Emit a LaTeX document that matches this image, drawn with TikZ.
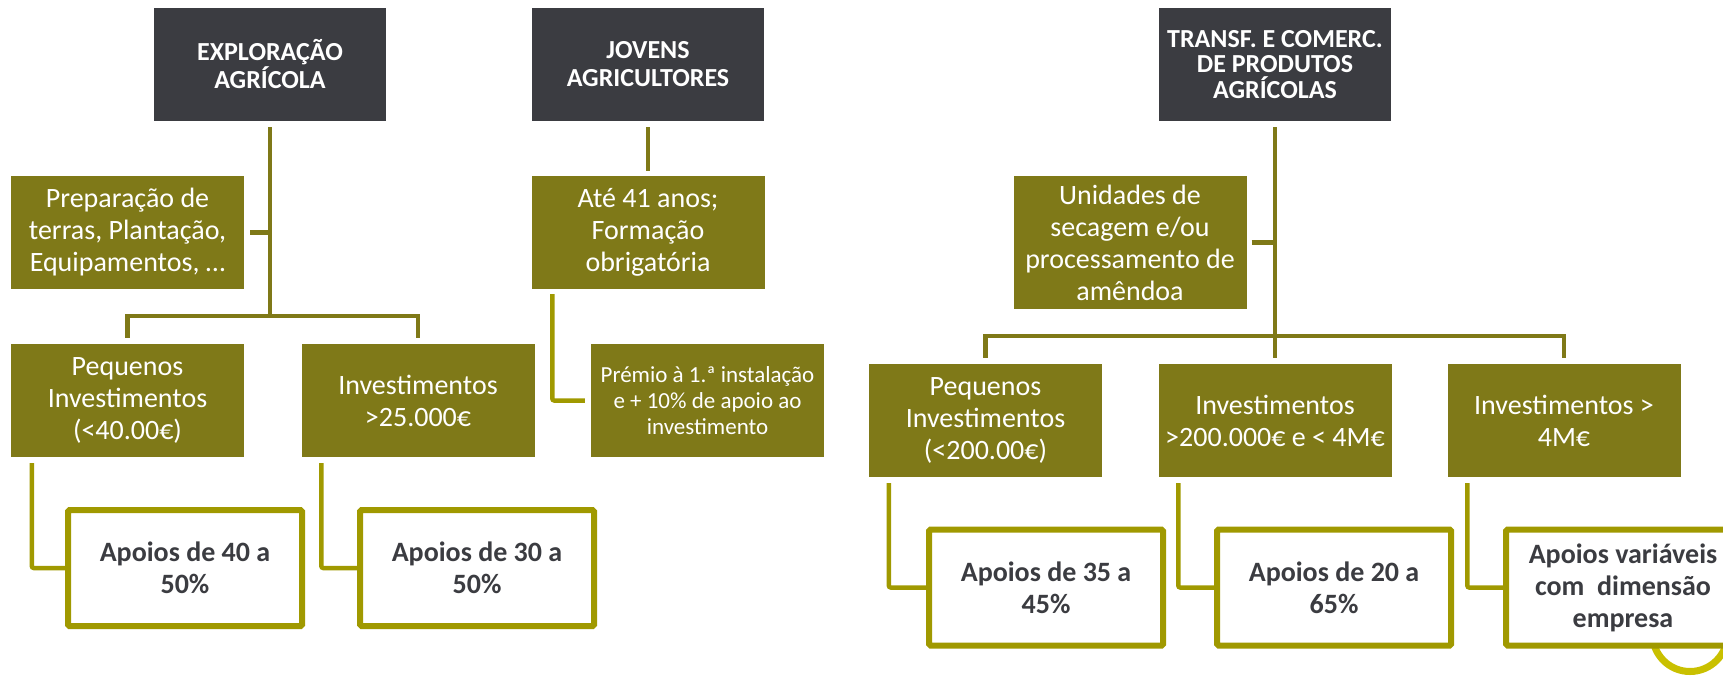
\documentclass[tikz,border=0pt]{standalone}
\usepackage{fontspec}
\setmainfont{Carlito}
\definecolor{headgray}{RGB}{59,60,65}
\definecolor{boxolive}{RGB}{127,121,24}
\definecolor{lineyellow}{RGB}{160,153,0}
\definecolor{ringyellow}{RGB}{201,192,0}
\tikzset{
  headbox/.style={fill=headgray, text=white, inner sep=0pt, align=center,
    minimum width=232pt, minimum height=113pt,
    font=\bfseries\fontsize{26}{28}\selectfont},
  greenbox/.style={fill=boxolive, text=white, inner sep=0pt, align=center,
    minimum width=233pt, minimum height=113pt,
    font=\fontsize{28}{32}\selectfont},
  apoiobox/.style={draw=lineyellow, line width=6pt, fill=white, text=headgray,
    inner sep=0pt, align=center, rounded corners=1.5pt,
    minimum width=234pt, minimum height=116pt,
    font=\bfseries\fontsize{28}{32}\selectfont},
  upline/.style={draw=boxolive, line width=4.5pt},
  lowline/.style={draw=lineyellow, line width=4.5pt, rounded corners=2pt},
}
\begin{document}
\begin{tikzpicture}[x=1pt,y=-1pt]
    \clip (0,0) rectangle (1723,678);
    % left part
    \node[headbox] (expl) at (270,64.5) {EXPLORAÇÃO\\AGRÍCOLA};
    \node[headbox] (jov) at (648,64.5) {JOVENS\\AGRICULTORES};
    \node[greenbox] (prep) at (127.5,232.5) {Preparação de\\terras, Plantação,\\Equipamentos, …};
    \node[greenbox] (ate) at (648,232.5) {Até 41 anos;\\Formação\\obrigatória};
    \node[greenbox] (peq1) at (127.5,400.5) {Pequenos\\Investimentos\\(<40.00€)};
    \node[greenbox] (inv1) at (418,400.5) {Investimentos\\>25.000€};
    \node[greenbox, font=\fontsize{23}{26}\selectfont] (prem) at (707.5,400.5) {Prémio à 1.ª instalação\\e + 10\% de apoio ao\\investimento};
    \node[apoiobox] (ap1) at (185,568) {Apoios de 40 a\\50\%};
    \node[apoiobox] (ap2) at (477,568) {Apoios de 30 a\\50\%};
    \coordinate (barL) at (270,316);
    \draw[upline] ([yshift=-6pt]expl.south) -- (barL);
    \draw[upline] ([xshift=6pt]prep.east) -- (prep.east -| barL);
    \draw[upline] ([yshift=6pt]peq1.north) -- (peq1.north |- barL) -- (inv1.north |- barL) -- ([yshift=6pt]inv1.north);
    \draw[upline] ([yshift=-6pt]jov.south) -- ([yshift=5pt]ate.north);
    \draw[lowline] ([xshift=21pt,yshift=-5pt]ate.south west) |- ([xshift=-6pt]prem.west);
    \draw[lowline] ([xshift=21pt,yshift=-6pt]peq1.south west) |- (ap1.west);
    \draw[lowline] ([xshift=20pt,yshift=-6pt]inv1.south west) |- (ap2.west);
    % right part
    \draw[ringyellow, line width=7pt] (1690,634) circle[radius=37.5pt];
    \node[headbox, font=\bfseries\fontsize{26}{25.5}\selectfont] (transf) at (1275,64.5) {TRANSF. E COMERC.\\DE PRODUTOS\\AGRÍCOLAS};
    \node[greenbox, minimum height=133pt] (unid) at (1130,242.5) {Unidades de\\secagem e/ou\\processamento de\\amêndoa};
    \node[greenbox] (peq2) at (985.5,420.5) {Pequenos\\Investimentos\\(<200.00€)};
    \node[greenbox] (inv2) at (1275,420.5) {Investimentos\\>200.000€ e < 4M€};
    \node[greenbox] (inv3) at (1564,420.5) {Investimentos >\\4M€};
    \node[apoiobox] (ap3) at (1046,587.5) {Apoios de 35 a\\45\%};
    \node[apoiobox] (ap4) at (1334,587.5) {Apoios de 20 a\\65\%};
    \node[apoiobox] (ap5) at (1623,587.5) {Apoios variáveis\\com~ dimensão\\empresa};
    \coordinate (barR) at (1275,336);
    \draw[upline] ([yshift=-6pt]transf.south) -- (barR);
    \draw[upline] ([xshift=5pt]unid.east) -- (unid.east -| barR);
    \draw[upline] ([yshift=6pt]peq2.north) -- (peq2.north |- barR) -- (inv3.north |- barR) -- ([yshift=6pt]inv3.north);
    \draw[upline] (barR) -- ([yshift=6pt]inv2.north);
    \draw[lowline] ([xshift=20pt,yshift=-6pt]peq2.south west) |- (ap3.west);
    \draw[lowline] ([xshift=20pt,yshift=-6pt]inv2.south west) |- (ap4.west);
    \draw[lowline] ([xshift=20pt,yshift=-6pt]inv3.south west) |- (ap5.west);
\end{tikzpicture}
\end{document}
